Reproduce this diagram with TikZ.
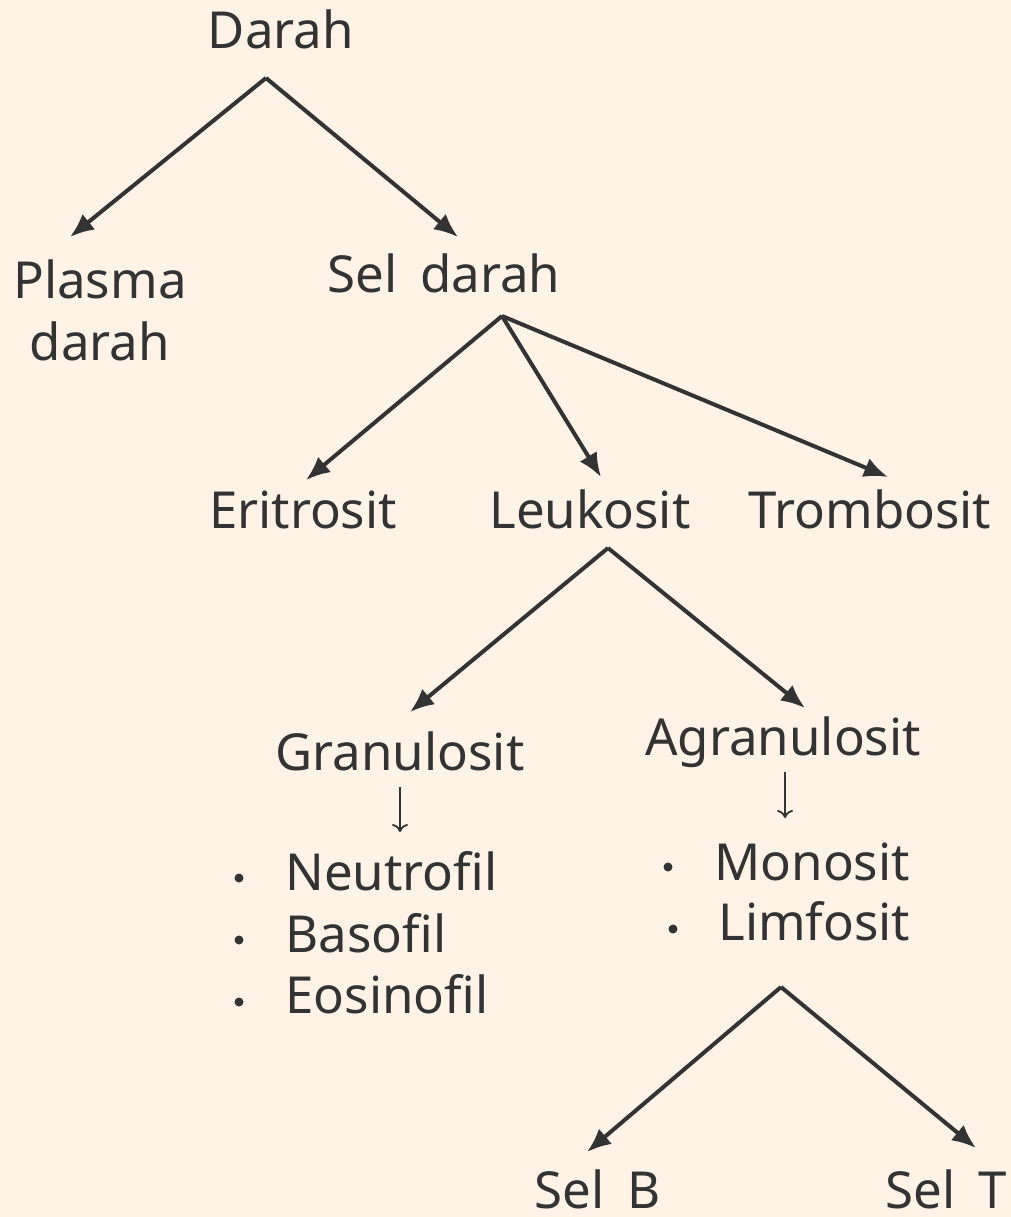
\documentclass[tikz,border=0pt]{standalone}
\usepackage{fontspec}
\setmainfont{Noto Sans}
\usetikzlibrary{arrows.meta}
\definecolor{bg}{HTML}{FEF3E6}
\definecolor{ink}{HTML}{333333}
\begin{document}
\begin{tikzpicture}[x=0.5pt,y=-0.5pt,
  lbl/.style={anchor=base,inner sep=0pt,text=ink,font=\fontsize{25.5}{31}\selectfont},
  conn/.style={draw=ink,line width=2pt,-{Latex[length=12pt,width=10pt]}},
  thin/.style={draw=ink,line width=0.9pt,-{To[length=4pt,width=8pt]}},
  dot/.style={circle,fill=ink,inner sep=0pt,minimum size=4.5pt}]
\fill[bg] (0,0) rectangle (1011,1217);
\useasboundingbox (0,0) rectangle (1011,1217);
% labels
\node[lbl] (darah) at (281,48) {Darah};
\node[lbl,align=center] (plasma) at (100,360) {Plasma\\darah};
\node[lbl] (sel) at (444,292) {Sel\hspace{0.45em}darah};
\node[lbl] (eri) at (303,528) {Eritrosit};
\node[lbl] (leu) at (590,528) {Leukosit};
\node[lbl] (tro) at (870,528) {Trombosit};
\node[lbl] (gra) at (400,770) {Granulosit};
\node[lbl] (agr) at (783,755) {Agranulosit};
\node[lbl,anchor=base west] (neu) at (285,890) {Neutrofil};
\node[lbl,anchor=base west] (bas) at (285,952) {Basofil};
\node[lbl,anchor=base west] (eos) at (285,1013) {Eosinofil};
\node[lbl,anchor=base west] (mon) at (714,880) {Monosit};
\node[lbl,anchor=base west] (lim) at (718,940) {Limfosit};
\node[lbl,text depth=0pt] (selb) at (598,1208) {Sel\hspace{0.45em}B};
\node[lbl,text depth=0pt] (selt) at (946,1208) {Sel\hspace{0.45em}T};
% bullets
\node[dot] (b1) at (239,878) {};
\node[dot] (b2) at (239,940) {};
\node[dot] (b3) at (239,1002) {};
\node[dot] (b4) at (668,867) {};
\node[dot] (b5) at (673,929) {};
% connector points
\coordinate (a0) at (266,78);
\coordinate (t1) at (70,237);
\coordinate (t2) at (458,237);
\coordinate (a1) at (502,316);
\coordinate (t3) at (306,480);
\coordinate (t4) at (601,477);
\coordinate (t5) at (888,477);
\coordinate (a2) at (608,548);
\coordinate (t6) at (410,712);
\coordinate (t7) at (805,708);
\coordinate (a3) at (781,987);
\coordinate (t8) at (587,1152);
\coordinate (t9) at (976,1148);
\coordinate (g0) at (400,787);
\coordinate (g1) at (400,832);
\coordinate (h0) at (785,772);
\coordinate (h1) at (785,818);
% connectors
\draw[conn] (a0) -- (t1);
\draw[conn] (a0) -- (t2);
\draw[conn] (a1) -- (t3);
\draw[conn] (a1) -- (t4);
\draw[conn] (a1) -- (t5);
\draw[conn] (a2) -- (t6);
\draw[conn] (a2) -- (t7);
\draw[conn] (a3) -- (t8);
\draw[conn] (a3) -- (t9);
\draw[thin] (g0) -- (g1);
\draw[thin] (h0) -- (h1);
\end{tikzpicture}
\end{document}
